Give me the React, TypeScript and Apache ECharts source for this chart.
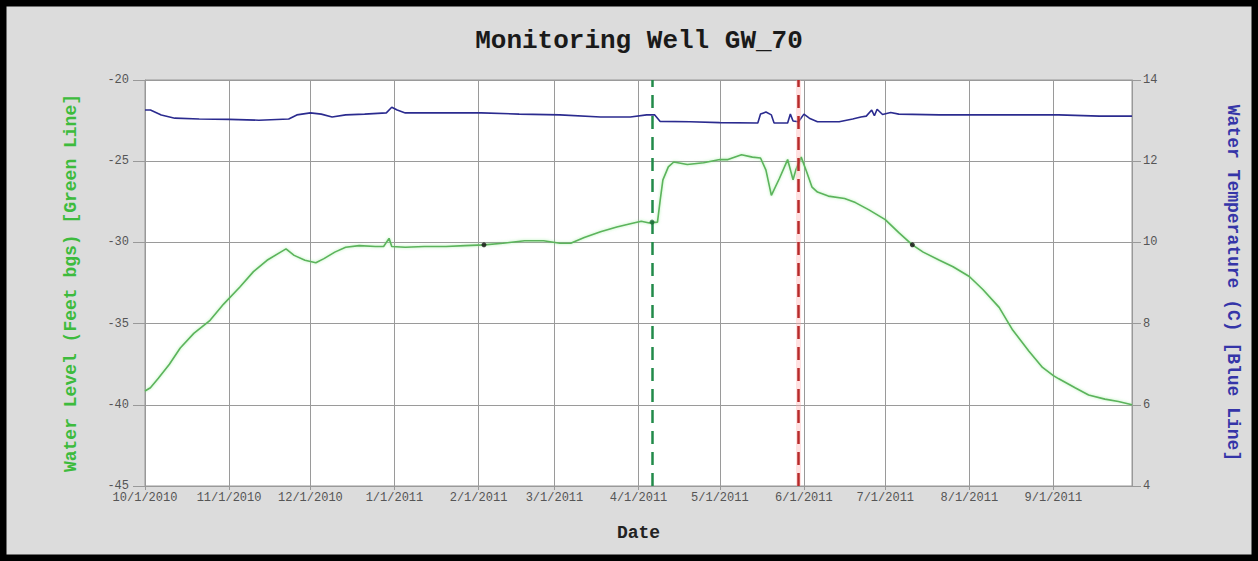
import React, { useEffect, useRef } from "react";
import * as echarts from "echarts";

const FONT = "'Liberation Mono', 'Courier New', monospace";

// Water level (feet bgs) — green line
const levelDates = [
  "2010-10-01", "2010-10-03", "2010-10-06", "2010-10-10", "2010-10-14", "2010-10-19", "2010-10-25", "2010-10-30",
  "2010-11-05", "2010-11-10", "2010-11-15", "2010-11-20", "2010-11-22", "2010-11-25", "2010-11-29", "2010-12-03",
  "2010-12-06", "2010-12-10", "2010-12-14", "2010-12-19", "2010-12-25", "2010-12-28", "2010-12-30", "2010-12-31",
  "2011-01-05", "2011-01-12", "2011-01-20", "2011-01-27", "2011-02-03", "2011-02-10", "2011-02-18", "2011-02-25",
  "2011-03-03", "2011-03-07", "2011-03-12", "2011-03-18", "2011-03-24", "2011-03-29", "2011-04-02", "2011-04-05",
  "2011-04-08", "2011-04-09", "2011-04-10", "2011-04-12", "2011-04-14", "2011-04-19", "2011-04-25", "2011-05-01",
  "2011-05-04", "2011-05-09", "2011-05-13", "2011-05-16", "2011-05-18", "2011-05-20", "2011-05-23", "2011-05-26",
  "2011-05-28", "2011-05-29", "2011-05-31", "2011-06-02", "2011-06-04", "2011-06-06", "2011-06-10", "2011-06-16",
  "2011-06-20", "2011-06-25", "2011-07-01", "2011-07-06", "2011-07-11", "2011-07-15", "2011-07-21", "2011-07-26",
  "2011-08-01", "2011-08-06", "2011-08-12", "2011-08-17", "2011-08-23", "2011-08-28", "2011-09-01", "2011-09-03",
  "2011-09-09", "2011-09-14", "2011-09-20", "2011-09-25", "2011-09-30",
];
const levelValues = [
  -39.15, -38.95, -38.35, -37.5, -36.5, -35.6, -34.8, -33.8,
  -32.75, -31.8, -31.1, -30.6, -30.4, -30.8, -31.1, -31.25,
  -31.0, -30.6, -30.3, -30.2, -30.25, -30.25, -29.75, -30.25,
  -30.3, -30.25, -30.25, -30.2, -30.15, -30.05, -29.9, -29.9,
  -30.05, -30.05, -29.7, -29.35, -29.05, -28.85, -28.7, -28.8,
  -28.75, -27.4, -26.15, -25.35, -25.05, -25.2, -25.1, -24.9,
  -24.9, -24.6, -24.75, -24.8, -25.55, -27.1, -26.05, -24.9,
  -26.15, -25.55, -24.75, -25.65, -26.6, -26.9, -27.15, -27.3,
  -27.55, -28.0, -28.6, -29.4, -30.15, -30.6, -31.1, -31.5,
  -32.1, -32.9, -34.0, -35.4, -36.7, -37.7, -38.2, -38.4,
  -38.95, -39.4, -39.65, -39.8, -40.0,
];

// Water temperature (C) — blue line
const tempDates = [
  "2010-10-01", "2010-10-03", "2010-10-07", "2010-10-12", "2010-10-21", "2010-11-01", "2010-11-12", "2010-11-23",
  "2010-11-26", "2010-12-01", "2010-12-05", "2010-12-09", "2010-12-14", "2010-12-21", "2010-12-29", "2010-12-31",
  "2011-01-02", "2011-01-05", "2011-01-18", "2011-02-02", "2011-02-16", "2011-03-03", "2011-03-18", "2011-03-29",
  "2011-04-04", "2011-04-07", "2011-04-09", "2011-04-20", "2011-05-01", "2011-05-15", "2011-05-16", "2011-05-18",
  "2011-05-20", "2011-05-21", "2011-05-26", "2011-05-27", "2011-05-28", "2011-05-30", "2011-06-01", "2011-06-03",
  "2011-06-06", "2011-06-14", "2011-06-19", "2011-06-22", "2011-06-24", "2011-06-26", "2011-06-27", "2011-06-28",
  "2011-06-30", "2011-07-03", "2011-07-06", "2011-07-21", "2011-08-05", "2011-08-19", "2011-09-03", "2011-09-18",
  "2011-09-30",
];
const tempValues = [
  13.26, 13.26, 13.14, 13.06, 13.04, 13.03, 13.01, 13.04,
  13.14, 13.19, 13.16, 13.09, 13.14, 13.16, 13.19, 13.33,
  13.26, 13.19, 13.19, 13.19, 13.16, 13.14, 13.09, 13.09,
  13.14, 13.14, 12.98, 12.97, 12.95, 12.94, 13.16, 13.21,
  13.14, 12.94, 12.94, 13.16, 12.99, 12.97, 13.16, 13.06,
  12.97, 12.97, 13.04, 13.09, 13.11, 13.26, 13.12, 13.28,
  13.15, 13.2, 13.16, 13.14, 13.14, 13.14, 13.14, 13.11,
  13.11,
];

// Point markers on the water level line
const markerDates = ["2011-02-03", "2011-04-06", "2011-07-11"];
const markerValues = [-30.15, -28.75, -30.15];
const markerColors = ["#111111", "#1f6b3a", "#111111"];

// Vertical event lines
const greenEventDate = "2011-04-06";
const redEventDate = "2011-05-30";

// Month tick labels
const monthTicks = [
  "2010-10-01", "2010-11-01", "2010-12-01", "2011-01-01", "2011-02-01", "2011-03-01",
  "2011-04-01", "2011-05-01", "2011-06-01", "2011-07-01", "2011-08-01", "2011-09-01",
];
const xStart = "2010-10-01";
const xEnd = "2011-09-30";

const t = (s: string) => {
  const [y, m, d] = s.split("-").map(Number);
  return new Date(y, m - 1, d).getTime();
};

const fmtDate = (v: number) => {
  const d = new Date(v);
  return `${d.getMonth() + 1}/${d.getDate()}/${d.getFullYear()}`;
};

export default function App() {
  const ref = useRef<HTMLDivElement>(null);

  useEffect(() => {
    if (!ref.current) return;
    const chart = echarts.init(ref.current, undefined, { renderer: "svg" });
    const tickVals = monthTicks.map(t);

    const option: any = {
      animation: false,
      backgroundColor: "#dcdcdc",
      textStyle: { fontFamily: FONT },
      grid: {
        left: 145,
        right: 126,
        top: 80,
        bottom: 75,
        show: true,
        backgroundColor: "#ffffff",
        borderColor: "#999999",
        borderWidth: 1,
      },
      graphic: [
        {
          type: "rect",
          shape: { x: 0, y: 0, width: 1258, height: 561 },
          style: { fill: "none", stroke: "#000000", lineWidth: 13 },
          silent: true,
          z: 100,
        },
        {
          type: "text",
          x: 639,
          y: 41,
          style: {
            text: "Monitoring Well GW_70",
            fontFamily: FONT,
            fontSize: 26,
            fontWeight: "bold",
            fill: "#1a1a1a",
            textAlign: "center",
            textVerticalAlign: "middle",
          },
        },
      ],
      xAxis: {
        type: "value",
        min: t(xStart),
        max: t(xEnd),
        name: "Date",
        nameLocation: "middle",
        nameGap: 38,
        nameTextStyle: { fontFamily: FONT, fontSize: 18, fontWeight: "bold", color: "#222" },
        axisLine: { show: true, lineStyle: { color: "#999" } },
        axisTick: { show: true, length: 4, lineStyle: { color: "#999" }, customValues: tickVals },
        axisLabel: {
          customValues: tickVals,
          formatter: (v: number) => fmtDate(v),
          fontFamily: FONT,
          fontSize: 12,
          color: "#555",
          margin: 6,
        },
        splitLine: { show: true, lineStyle: { color: "#9a9a9a", width: 1 } },
      },
      yAxis: [
        {
          type: "value",
          min: -45,
          max: -20,
          interval: 5,
          position: "left",
          name: "Water Level (Feet bgs) [Green Line]",
          nameLocation: "middle",
          nameRotate: 90,
          nameGap: 65,
          nameTextStyle: { fontFamily: FONT, fontSize: 18, fontWeight: "bold", color: "#3dbb3d" },
          axisLine: { show: true, lineStyle: { color: "#999" } },
          axisTick: { show: true, length: 12, lineStyle: { color: "#999" } },
          axisLabel: { fontFamily: FONT, fontSize: 12, color: "#555", margin: 16 },
          splitLine: { show: true, lineStyle: { color: "#9a9a9a", width: 1 } },
        },
        {
          type: "value",
          min: 4,
          max: 14,
          interval: 2,
          position: "right",
          name: "Water Temperature (C) [Blue Line]",
          nameLocation: "middle",
          nameRotate: -90,
          nameGap: 92,
          nameTextStyle: { fontFamily: FONT, fontSize: 18, fontWeight: "bold", color: "#3535a8" },
          axisLine: { show: true, lineStyle: { color: "#999" } },
          axisTick: { show: true, length: 9, lineStyle: { color: "#999" } },
          axisLabel: { fontFamily: FONT, fontSize: 12, color: "#555", margin: 11 },
          splitLine: { show: false },
        },
      ],
      series: [
        {
          name: "Water Temperature",
          type: "line",
          yAxisIndex: 1,
          data: tempDates.map((d, i) => [t(d), tempValues[i]]),
          showSymbol: false,
          symbol: "none",
          lineStyle: { color: "#2b2b8f", width: 1.6 },
          z: 3,
        },
        {
          name: "Water Level",
          type: "line",
          yAxisIndex: 0,
          data: levelDates.map((d, i) => [t(d), levelValues[i]]),
          showSymbol: false,
          symbol: "none",
          lineStyle: { color: "#5bb35b", width: 1.6, shadowColor: "rgba(120,230,120,0.6)", shadowBlur: 3 },
          z: 4,
          markLine: {
            silent: true,
            symbol: ["none", "none"],
            label: { show: false },
            data: [
              {
                xAxis: t(redEventDate),
                lineStyle: { color: "rgba(255,170,170,0.35)", width: 5, type: "solid" },
              },
              {
                xAxis: t(greenEventDate),
                lineStyle: { color: "#228a4a", width: 2.5, type: [13, 8] },
              },
              {
                xAxis: t(redEventDate),
                lineStyle: { color: "#b82a2a", width: 2.5, type: [13, 8] },
              },
            ],
          },
        },
        {
          name: "Markers",
          type: "scatter",
          yAxisIndex: 0,
          symbolSize: 5,
          data: markerDates.map((d, i) => ({
            value: [t(d), markerValues[i]],
            itemStyle: { color: markerColors[i] },
          })),
          z: 6,
        },
      ],
    };

    chart.setOption(option);
    return () => chart.dispose();
  }, []);

  return (
    <div
      ref={ref}
      style={{ position: "fixed", left: 0, top: 0, width: 1258, height: 561 }}
    />
  );
}
